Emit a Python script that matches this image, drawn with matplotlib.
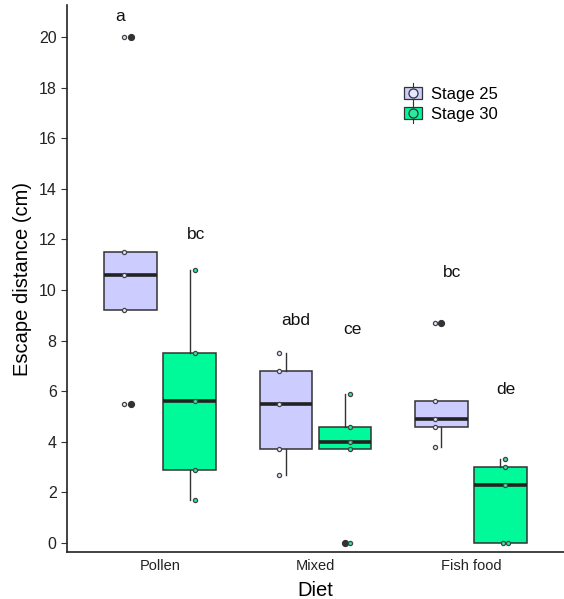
import numpy as np
import matplotlib
matplotlib.use("Agg")
import matplotlib.pyplot as plt
from matplotlib.patches import Rectangle
from matplotlib.lines import Line2D
from matplotlib.legend_handler import HandlerBase

plt.rcParams['font.family'] = ['Liberation Sans', 'DejaVu Sans']

# data
diets = ['Pollen', 'Mixed', 'Fish food']
stages = ['Stage 25', 'Stage 30']
stage25 = [[5.5, 9.2, 10.6, 11.5, 20.0],
           [2.7, 3.7, 5.5, 6.8, 7.5],
           [3.8, 4.6, 4.9, 5.6, 8.7]]
stage30 = [[1.7, 2.9, 5.6, 7.5, 10.8],
           [0.0, 3.7, 4.0, 4.6, 5.9],
           [0.0, 0.0, 2.3, 3.0, 3.3]]
letters25 = ['a', 'abd', 'bc']
letters30 = ['bc', 'ce', 'de']
letter_y25 = [20.8, 8.8, 10.7]
letter_y30 = [12.2, 8.45, 6.05]

fills = ['#CCCCFF', '#00FA9A']
pt_fills = ['#E6E6FF', '#2EE8A0']
edge = '#333333'


class BoxKey(HandlerBase):
    # legend key: box with whisker line and a point in the middle
    def __init__(self, fc, pfc):
        super().__init__()
        self.fc, self.pfc = fc, pfc

    def create_artists(self, legend, orig_handle, xdescent, ydescent,
                       width, height, fontsize, trans):
        cx = width / 2 - xdescent
        cy = height / 2 - ydescent
        bw, bh = width * 0.95, height * 0.85
        line = Line2D([cx, cx], [cy - height * 0.75, cy + height * 0.75],
                      color=edge, lw=0.8, transform=trans)
        rect = Rectangle((cx - bw / 2, cy - bh / 2), bw, bh, facecolor=self.fc,
                         edgecolor=edge, lw=0.9, transform=trans)
        dot = Line2D([cx], [cy], marker='o', markersize=6.5, markerfacecolor=self.pfc,
                     markeredgecolor=edge, markeredgewidth=0.9, linestyle='none',
                     transform=trans)
        return [line, rect, dot]


fig = plt.figure(figsize=(5.64, 5.99), dpi=100)
ax = fig.add_axes([0.119, 0.0785, 0.881, 0.913])

x = np.arange(1, len(diets) + 1)
dodge = 0.19
width = 0.34

for i, (data, fc, pfc) in enumerate(zip([stage25, stage30], fills, pt_fills)):
    pos = x + (-dodge if i == 0 else dodge)
    ax.boxplot(data, positions=pos, widths=width, patch_artist=True,
               showcaps=False, manage_ticks=False,
               boxprops=dict(facecolor=fc, edgecolor=edge, linewidth=1.1),
               medianprops=dict(color='#222222', linewidth=2.6),
               whiskerprops=dict(color=edge, linewidth=1.0),
               flierprops=dict(marker='o', markerfacecolor=edge, markeredgecolor=edge,
                               markersize=4.2), zorder=2)
    shift = -0.043 if i == 0 else 0.032
    for p, vals in zip(pos, data):
        vals = np.array(vals)
        xs = np.full(len(vals), p + shift)
        # spread tied values a little so both show
        for v in np.unique(vals):
            idx = np.where(vals == v)[0]
            if len(idx) > 1:
                xs[idx] += np.linspace(-0.016, 0.016, len(idx))
        ax.scatter(xs, vals, s=9, facecolor=pfc, edgecolor='#444444',
                   linewidth=0.9, zorder=4)

offs25 = [-0.07, 0.06, 0.068]
offs30 = [0.038, 0.047, 0.034]
for j in range(len(diets)):
    ax.text(x[j] - dodge + offs25[j], letter_y25[j], letters25[j], ha='center',
            va='center', fontsize=12.5, color='#111111')
    ax.text(x[j] + dodge + offs30[j], letter_y30[j], letters30[j], ha='center',
            va='center', fontsize=12.5, color='#111111')

ax.set_xlim(0.4, 3.6)
ax.set_ylim(-0.36, 21.26)
ax.set_xticks(x)
ax.set_xticklabels(diets, fontsize=10.5)
ax.set_yticks(np.arange(0, 21, 2))
ax.tick_params(axis='y', labelsize=11.5, length=4, color='#333333', labelcolor='#222222')
ax.tick_params(axis='x', length=0, pad=5, labelcolor='#222222')
for s in ['top', 'right']:
    ax.spines[s].set_visible(False)
for s in ['left', 'bottom']:
    ax.spines[s].set_linewidth(1.2)
    ax.spines[s].set_color('#222222')
ax.set_ylabel('Escape distance (cm)', fontsize=14.5, labelpad=5)
ax.set_xlabel('Diet', fontsize=14.5, labelpad=6)

keys = [object(), object()]
ax.legend(keys, stages,
          handler_map={k: BoxKey(fc, pfc) for k, fc, pfc in zip(keys, fills, pt_fills)},
          loc='upper left', bbox_to_anchor=(0.646, 0.879), frameon=False,
          fontsize=12, handlelength=1.15, handleheight=0.9, labelspacing=0.25,
          handletextpad=0.5)

fig.savefig('out.png', dpi=100)
